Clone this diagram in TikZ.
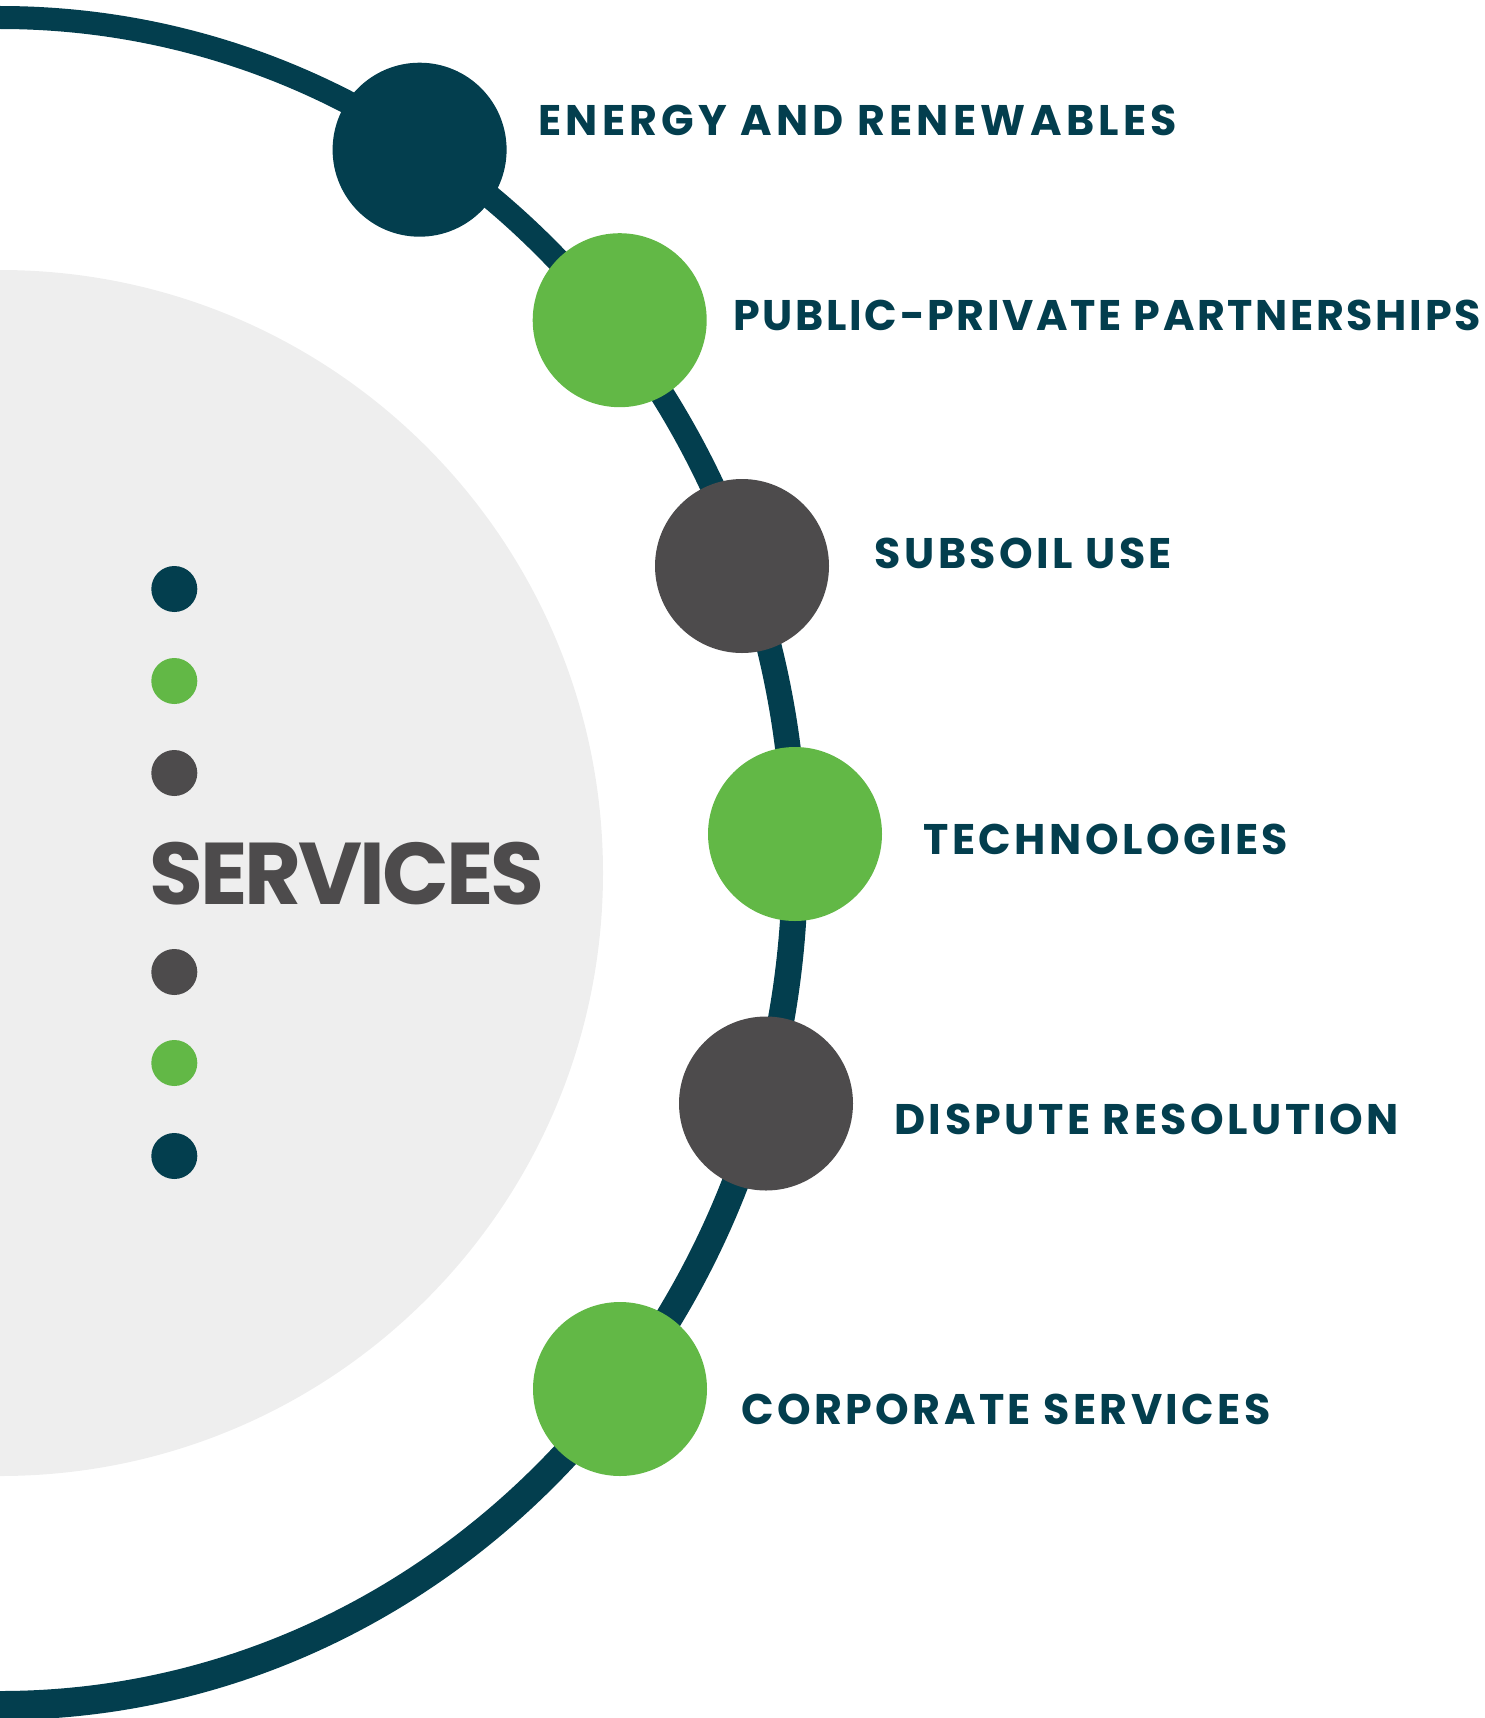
\documentclass[tikz,border=0pt]{standalone}
\usepackage{fontspec}
\setmainfont{Poppins}
\newfontfamily\labelfont{Poppins}[LetterSpace=8]
\newfontfamily\titlefont{Poppins}[LetterSpace=-3.4]

\definecolor{ringblue}{HTML}{033E4E}
\definecolor{leafgreen}{HTML}{62B846}
\definecolor{slategrey}{HTML}{4D4B4C}
\definecolor{palegrey}{HTML}{EEEEEE}

\tikzset{
  bigdot/.style={circle, minimum size=87pt, inner sep=0pt},
  smalldot/.style={circle, minimum size=23pt, inner sep=0pt},
  itemtext/.style={anchor=base west, inner sep=0pt, text=ringblue,
    font=\labelfont\bfseries\fontsize{21.4}{24}\selectfont},
}

\begin{document}
\begin{tikzpicture}[x=0.5pt, y=-0.5pt]
  \useasboundingbox (0,0) rectangle (1484,1718);

  % Background disc
  \fill[palegrey] (0,873) circle[radius=603];

  % Ring (a little thicker towards the bottom)
  \coordinate (outer top) at (0,6);
  \coordinate (inner bottom) at (0,1691);
  \fill[ringblue] (outer top) arc[start angle=-90, end angle=90, x radius=808, y radius=857]
    -- (inner bottom) arc[start angle=90, end angle=-90, x radius=782, y radius=831] -- cycle;

  % Nodes
  \node[bigdot, fill=ringblue] at (419.6,149.7) (energy) {};
  \node[bigdot, fill=leafgreen] at (619.7,320.2) (ppp) {};
  \node[bigdot, fill=slategrey] at (742,566) (subsoil) {};
  \node[bigdot, fill=leafgreen] at (795,834) (tech) {};
  \node[bigdot, fill=slategrey] at (766,1103.5) (dispute) {};
  \node[bigdot, fill=leafgreen] at (620,1389) (corporate) {};

  % Labels
  \node[itemtext] at (537.7,135) (energy label) {\addfontfeature{LetterSpace=10}ENERGY AND RENEWABLES};
  \node[itemtext] at (733,330) (ppp label) {\addfontfeature{LetterSpace=6.2}PUBLIC-PRIVATE PARTNERSHIPS};
  \node[itemtext] at (874.3,568.3) (subsoil label) {SUBSOIL USE};
  \node[itemtext] at (923.2,854) (tech label) {TECHNOLOGIES};
  \node[itemtext] at (894,1134) (dispute label) {DISPUTE RESOLUTION};
  \node[itemtext] at (740.8,1424) (corporate label) {CORPORATE SERVICES};

  % Centre
  \node[smalldot, fill=ringblue] at (174.3,589) (d1) {};
  \node[smalldot, fill=leafgreen] at (174.3,681) (d2) {};
  \node[smalldot, fill=slategrey] at (174.3,773) (d3) {};
  \node[anchor=base west, inner sep=0pt, text=slategrey,
    font=\titlefont\bfseries\fontsize{43.8}{48}\selectfont] at (149,904) (services) {SERVICES};
  \node[smalldot, fill=slategrey] at (174.3,972) (d4) {};
  \node[smalldot, fill=leafgreen] at (174.3,1063) (d5) {};
  \node[smalldot, fill=ringblue] at (174.3,1156) (d6) {};
\end{tikzpicture}
\end{document}
